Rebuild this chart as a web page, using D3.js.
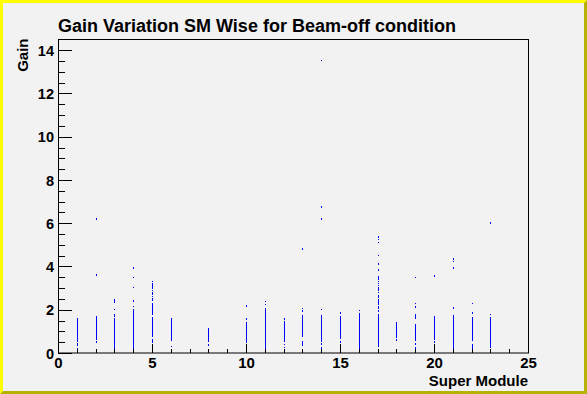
<!DOCTYPE html>
<html><head><meta charset="utf-8">
<script src="https://cdn.jsdelivr.net/npm/d3@7"></script>
<style>html,body{margin:0;padding:0;background:#f2f2f2;}svg{display:block;}</style>
</head><body>
<script>
// ---- data ----
const title = "Gain Variation SM Wise for Beam-off condition";
const xTitle = "Super Module";
const yTitle = "Gain";
const xMajorTicks = [0, 5, 10, 15, 20, 25];
const xMinorTicks = d3.range(0, 26);
const yMajorTicks = [0, 2, 4, 6, 8, 10, 12, 14];
const yMinorTicks = d3.range(0, 14.51, 0.5);
// continuous runs of cell gains: [super module, low gain, high gain]
const segments = [
  [0,0,1.48],
  [1,0.52,1.62],[1,0,0.22],
  [2,0.6,1.72],[2,0,0.2],
  [3,0,1.62],
  [4,0,2.05],
  [5,1.75,2.33],[5,0.75,1.65],[5,0.45,0.65],[5,0,0.35],
  [6,0.57,1.63],[6,0,0.15],
  [8,0.52,1.17],[8,0,0.12],
  [10,0.45,1.45],[10,0,0.38],
  [11,0,2.07],
  [12,0.52,1.5],[12,0,0.12],
  [13,0.76,1.76],[13,0.32,0.57],[13,0,0.2],
  [14,0.52,1.76],[14,0,0.3],
  [15,0.63,1.71],[15,0,0.3],
  [16,0,1.85],
  [17,0.29,1.79],[17,0,0.15],[17,3.38,3.56],[17,2.55,2.7],[17,1.88,2.0],
  [18,0.68,1.45],[18,0,0.2],
  [19,0.55,1.34],[19,0,0.3],
  [20,0.6,1.71],[20,0,0.3],
  [21,0,1.76],
  [22,0.55,1.68],[22,0,0.4],
  [23,0.22,1.65],[23,0,0.12]
];
// isolated cell gains: [super module, gain]
const points = [
  [1,0.45],[1,0.37],
  [2,6.19],[2,3.6],[2,0.5],
  [3,2.44],[3,2.36],[3,2.02],[3,1.78],[3,1.72],
  [4,3.92],[4,3.5],[4,3.04],[4,2.41],[4,2.15],
  [5,3.3],[5,3.22],[5,3.14],[5,3.06],[5,2.98],[5,2.9],[5,2.8],[5,2.72],[5,2.62],[5,2.52],[5,2.45],
  [6,0.29],
  [8,0.37],
  [10,2.18],[10,1.57],
  [11,2.37],[11,2.25],
  [12,1.57],[12,0.4],[12,0.25],
  [13,4.8],[13,2.05],[13,1.94],
  [14,13.52],[14,6.74],[14,6.19],[14,2.02],[14,0.42],
  [15,1.84],[15,0.5],[15,0.4],
  [16,1.96],
  [17,5.36],[17,5.26],[17,5.11],[17,4.52],[17,4.14],[17,4.1],[17,3.84],[17,3.3],[17,3.22],[17,3.12],[17,3.04],[17,2.96],[17,2.88],[17,2.8],[17,2.48],[17,2.4],[17,2.32],[17,2.24],[17,2.16],[17,2.08],
  [18,0.6],
  [19,3.5],[19,2.3],[19,2.12],[19,1.79],[19,1.72],[19,1.66],[19,1.59],[19,0.42],
  [20,3.55],[20,0.5],
  [21,4.34],[21,4.23],[21,3.92],[21,2.07],
  [22,2.3],[22,1.84],
  [23,6.0],[23,1.79]
];

// ---- drawing ----
const W = 587, H = 394;
const fontFam = "'Liberation Sans', Arial, Helvetica, sans-serif";
const svg = d3.select("body").append("svg").attr("width", W).attr("height", H);
svg.append("rect").attr("width", W).attr("height", H).attr("fill", "#f2f2f2");

// canvas bevel border
const b = 3;
svg.append("polygon").attr("points", `0,0 ${W},0 ${W-b},${b} ${b},${b} ${b},${H-b} 0,${H}`).attr("fill", "#ffff00");
svg.append("polygon").attr("points", `${W},0 ${W},${H} 0,${H} ${b},${H-b} ${W-b},${H-b} ${W-b},${b}`).attr("fill", "#b3b300");

const x = d3.scaleLinear().domain([0, 25]).range([58, 528]);
const y = d3.scaleLinear().domain([0, 14.52]).range([353, 39]);

// data marks
const g = svg.append("g").attr("shape-rendering", "crispEdges");
g.selectAll("rect.seg").data(segments).join("rect").attr("class", "seg")
  .attr("x", d => Math.round(x(d[0])))
  .attr("y", d => y(d[2]))
  .attr("width", 1)
  .attr("height", d => Math.max(1, y(d[1]) - y(d[2])))
  .attr("fill", "#0000ff");
g.selectAll("rect.pt").data(points).join("rect").attr("class", "pt")
  .attr("x", d => Math.round(x(d[0])))
  .attr("y", d => y(d[1]) - 0.75)
  .attr("width", 1)
  .attr("height", 1.5)
  .attr("fill", "#0000ff");

// axes
const ax = svg.append("g").attr("transform", "translate(0,353)")
  .call(d3.axisBottom(x).tickValues(xMinorTicks).tickSize(-4.5).tickFormat(""));
const axM = svg.append("g").attr("transform", "translate(0,353)")
  .call(d3.axisBottom(x).tickValues(xMajorTicks).tickSize(-9).tickPadding(4.6).tickFormat(d3.format("d")));
const ay = svg.append("g").attr("transform", "translate(58,0)")
  .call(d3.axisLeft(y).tickValues(yMinorTicks).tickSize(-7).tickFormat(""));
const ayM = svg.append("g").attr("transform", "translate(58,0)")
  .call(d3.axisLeft(y).tickValues(yMajorTicks).tickSize(-14).tickPadding(4).tickFormat(d3.format("d")));
[ax, axM, ay, ayM].forEach(a => {
  a.select(".domain").remove();
  a.selectAll("line").attr("stroke", "#000").attr("shape-rendering", "crispEdges");
  a.selectAll("text").attr("fill", "#000").style("font-family", fontFam).style("font-weight", "bold");
});
axM.selectAll("text").style("font-size", "15px");
ayM.selectAll("text").style("font-size", "14.5px").attr("dy", "0.36em");

// frame
svg.append("rect").attr("x", 58.5).attr("y", 39.5).attr("width", 470).attr("height", 313.5)
  .attr("fill", "none").attr("stroke", "#000").attr("stroke-width", 1);

// texts
svg.append("text").attr("x", 58).attr("y", 31.5).text(title)
  .style("font-family", fontFam).style("font-weight", "bold").style("font-size", "18px");
svg.append("text").attr("x", 528).attr("y", 385.5).attr("text-anchor", "end").text(xTitle)
  .style("font-family", fontFam).style("font-weight", "bold").style("font-size", "15px");
svg.append("text").attr("transform", "translate(27.5,38.5) rotate(-90)").attr("text-anchor", "end").text(yTitle)
  .style("font-family", fontFam).style("font-weight", "bold").style("font-size", "15px");
</script>
</body></html>
